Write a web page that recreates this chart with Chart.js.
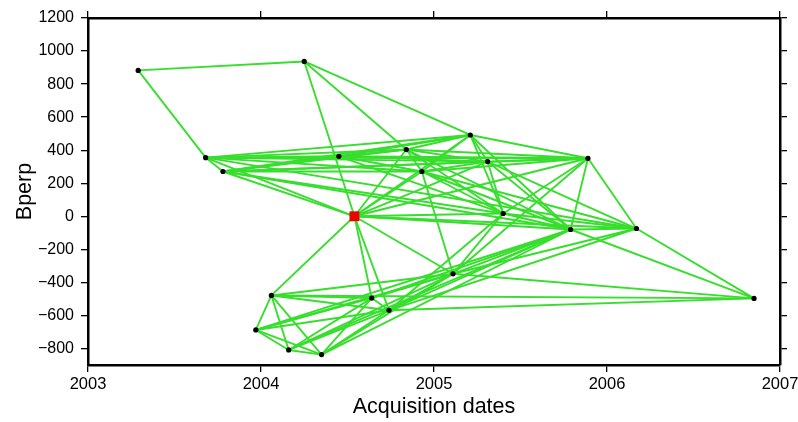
<!DOCTYPE html>
<html>
<head>
<meta charset="utf-8">
<script src="https://cdn.jsdelivr.net/npm/chart.js@4"></script>
<style>
  body { margin: 0; background: #fff; }
  #wrap { position: absolute; left: 0; top: 0; width: 798px; height: 422px; }
</style>
</head>
<body>
<div id="wrap"><canvas id="baselines" width="798" height="422"></canvas></div>
<script>
// acquisitions, in date order (decimal year, perpendicular baseline in m)
const nodeIds = ['A','B','C','D','E','F','G','H','I','R','J','K','L','M','N','O','P','Q','S','T','U','V'];
const dates   = [2003.29, 2003.68, 2003.78, 2003.97, 2004.06, 2004.16, 2004.25, 2004.35, 2004.45, 2004.54, 2004.64,
                 2004.74, 2004.84, 2004.93, 2005.11, 2005.21, 2005.31, 2005.40, 2005.79, 2005.89, 2006.17, 2006.85];
const bperp   = [883, 355, 271, -688, -479, -809, 937, -837, 363, 0, -495,
                 -569, 404, 271, -348, 492, 331, 17, -80, 351, -74, -497];
const referenceId = 'R';

// interferometric pairs
const pairs = [
  'AG','AB','GR','GL','GO',
  'BC','BI','BL','BM','BO','BP','BT','BR','BU',
  'CI','CL','CM','CO','CP','CT','CR','CQ','CS',
  'IL','IO','IP','IT','IM','IQ',
  'LO','LP','LT','LM','LQ','LS','LR',
  'MO','MP','MT','MQ','MS','MU',
  'OP','OT','OQ','OR','OS',
  'PT','PQ','PS','PU','PR',
  'TQ','TS','TU',
  'QS','QU','RQ','RS','RU','RM','RT',
  'SU','SV','UV',
  'RE','RJ','RK','RN',
  'ED','EF','EH','EJ','EK','EN','EV',
  'DF','DH','DJ','DK','DN','DS',
  'FH','FJ','FK','FN','FS',
  'HJ','HK','HN','HS',
  'JK','JN','JS',
  'KN','KS','KV','KQ','KU',
  'NQ','NS','NU','NV','NT','NM'
];

const xTicks = [2003, 2004, 2005, 2006, 2007];
const yTicks = [-800, -600, -400, -200, 0, 200, 400, 600, 800, 1000, 1200];

const FONT = '"Liberation Sans", Arial, sans-serif';
const GREEN = 'rgb(55, 222, 45)';

function pt(id) {
  const i = nodeIds.indexOf(id);
  return { x: dates[i], y: bperp[i] };
}

const datasets = [];
datasets.push({
  label: 'reference',
  data: [pt(referenceId)],
  pointStyle: 'rect',
  pointRadius: 7,
  backgroundColor: '#ee0000',
  borderColor: '#ee0000',
  borderWidth: 0,
  order: 0
});
datasets.push({
  label: 'acquisitions',
  data: nodeIds.filter(id => id !== referenceId).map(pt),
  pointRadius: 2.6,
  backgroundColor: '#000',
  borderColor: '#000',
  borderWidth: 0,
  order: 1
});
pairs.forEach(p => {
  datasets.push({
    label: p,
    data: [pt(p[0]), pt(p[1])],
    showLine: true,
    borderColor: GREEN,
    borderWidth: 1.9,
    pointRadius: 0,
    order: 2
  });
});

const tickGrid = { drawOnChartArea: false, drawTicks: true, tickLength: 7, color: '#000', lineWidth: 1.3 };
const frame = { display: true, color: '#000', width: 2.5 };
const setTicks = vals => scale => { scale.ticks = vals.map(v => ({ value: v })); };
const fixSize = (prop, size) => s => { s[prop] = size; s.paddingLeft = 0; s.paddingRight = 0; s.paddingTop = 0; s.paddingBottom = 0; };

new Chart(document.getElementById('baselines').getContext('2d'), {
  type: 'scatter',
  data: { datasets },
  options: {
    responsive: false,
    animation: false,
    devicePixelRatio: 1,
    layout: { padding: 0 },
    plugins: { legend: { display: false }, tooltip: { enabled: false } },
    scales: {
      x: {
        type: 'linear', position: 'bottom', min: 2003, max: 2007,
        afterBuildTicks: setTicks(xTicks),
        afterFit: fixSize('height', 57),
        grid: tickGrid, border: frame,
        ticks: { color: '#000', padding: 3, font: { family: FONT, size: 16.5 }, callback: v => String(v) },
        title: { display: true, text: 'Acquisition dates', color: '#000', font: { family: FONT, size: 21.5 }, padding: { top: 0, bottom: 2 } }
      },
      xTop: {
        type: 'linear', position: 'top', min: 2003, max: 2007,
        afterBuildTicks: setTicks(xTicks),
        afterFit: fixSize('height', 18),
        grid: tickGrid, border: frame,
        ticks: { display: false }
      },
      y: {
        type: 'linear', position: 'left', min: -900, max: 1200,
        afterBuildTicks: setTicks(yTicks),
        afterFit: fixSize('width', 88),
        grid: tickGrid, border: frame,
        ticks: { color: '#000', padding: 7, font: { family: FONT, size: 16 },
                 callback: v => String(v).replace('-', '\u2212') },
        title: { display: true, text: 'Bperp', color: '#000', font: { family: FONT, size: 21.5 }, padding: { top: 12, bottom: 0 } }
      },
      yRight: {
        type: 'linear', position: 'right', min: -900, max: 1200,
        afterBuildTicks: setTicks(yTicks),
        afterFit: fixSize('width', 18),
        grid: tickGrid, border: frame,
        ticks: { display: false }
      }
    }
  }
});
</script>
</body>
</html>
